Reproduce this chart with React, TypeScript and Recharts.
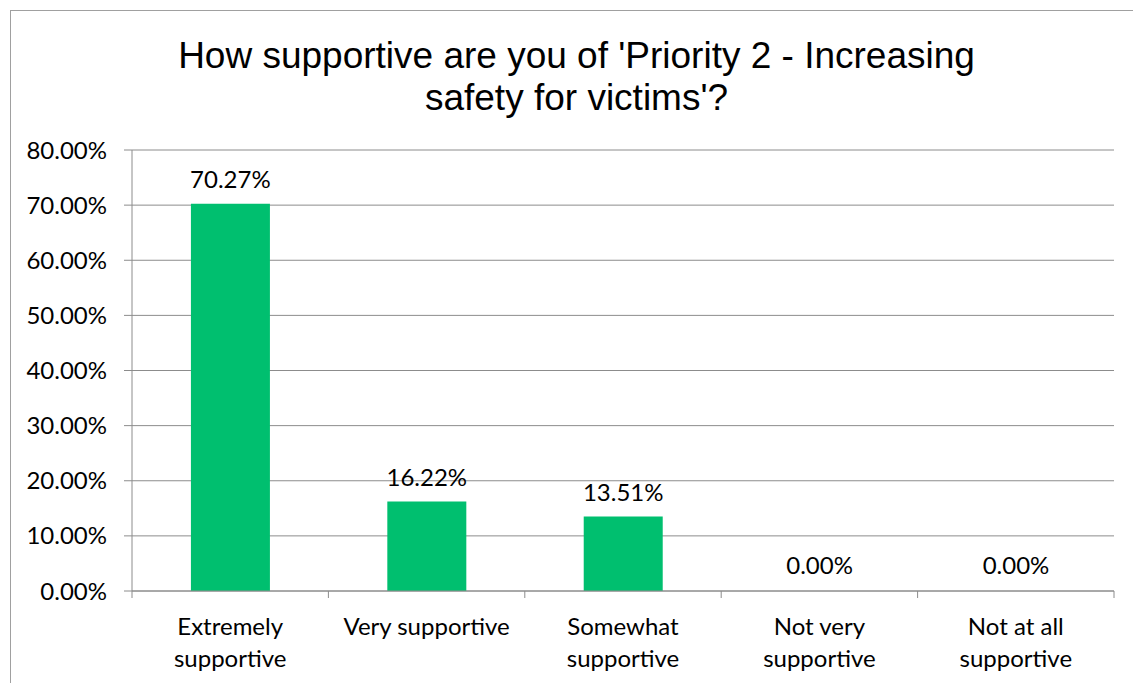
import { BarChart, Bar, XAxis, YAxis, CartesianGrid, LabelList, Rectangle } from 'recharts'

document.body.style.margin = '0'

const categories = [
  'Extremely\nsupportive',
  'Very supportive',
  'Somewhat\nsupportive',
  'Not very\nsupportive',
  'Not at all\nsupportive',
]
const shares = [70.27, 16.22, 13.51, 0, 0]
const yTicks = [0, 10, 20, 30, 40, 50, 60, 70, 80]

const data = categories.map((name, i) => ({ name, share: shares[i] }))

const pct = (v: number) => `${Number(v).toFixed(2)}%`
const FONT = 'Lato, "Liberation Sans", sans-serif'
const GRAY = '#8c8c8c'

function CategoryTick(props: any) {
  const { x, y, payload, index, visibleTicksCount } = props
  const half = payload.offset || 98.2
  const lines = String(payload.value).split('\n')
  const last = index === visibleTicksCount - 1
  return (
    <g>
      <line x1={x - half} x2={x - half} y1={y} y2={y + 7} stroke={GRAY} />
      {last && <line x1={x + half} x2={x + half} y1={y} y2={y + 7} stroke={GRAY} />}
      <text x={x} y={y + 44} textAnchor="middle" fill="#000" fontSize={24} fontFamily={FONT}>
        {lines.map((l, i) => (
          <tspan key={i} x={x} dy={i === 0 ? 0 : 32}>{l}</tspan>
        ))}
      </text>
    </g>
  )
}

// zero-valued bars draw nothing, but keep a slot so their labels still show
function BarShape(props: any) {
  if (!props.payload || !(props.payload.share > 0)) return <g />
  return <Rectangle {...props} />
}

export default function App() {
  return (
    <div style={{ position: 'relative', width: 1133, height: 683, overflow: 'hidden', background: '#fff' }}>
      <div style={{ position: 'absolute', left: 10, top: 10, width: 1132, height: 700, border: '1px solid #a0a0a0' }} />
      <div
        style={{
          position: 'absolute', left: 10, width: 1133, top: 35, textAlign: 'center',
          fontFamily: '"Liberation Sans", Arial, sans-serif', fontSize: 37, lineHeight: '42px', color: '#000',
        }}
      >
        How supportive are you of 'Priority 2 - Increasing<br />safety for victims'?
      </div>
      <div style={{ position: 'absolute', left: 0, top: 0 }}>
        <BarChart
          width={1133}
          height={683}
          data={data}
          margin={{ top: 150, right: 19, bottom: 0, left: 10 }}
          barCategoryGap="30%"
        >
          <CartesianGrid vertical={false} stroke={GRAY} />
          <XAxis
            dataKey="name"
            tickLine={false}
            tickSize={0}
            tickMargin={0}
            stroke={GRAY}
            interval={0}
            tick={<CategoryTick />}
            height={92}
          />
          <YAxis
            domain={[0, 80]}
            ticks={yTicks}
            tickFormatter={pct}
            width={122}
            stroke={GRAY}
            tickSize={8}
            tickMargin={17}
            tick={{ fill: '#000', fontSize: 24, fontFamily: FONT }}
          />
          <Bar dataKey="share" fill="#00BF6F" minPointSize={1} shape={<BarShape />} isAnimationActive={false}>
            <LabelList
              dataKey="share"
              position="top"
              offset={16}
              formatter={(v: any) => pct(v)}
              fill="#000"
              fontSize={24}
              fontFamily={FONT}
            />
          </Bar>
        </BarChart>
      </div>
    </div>
  )
}
